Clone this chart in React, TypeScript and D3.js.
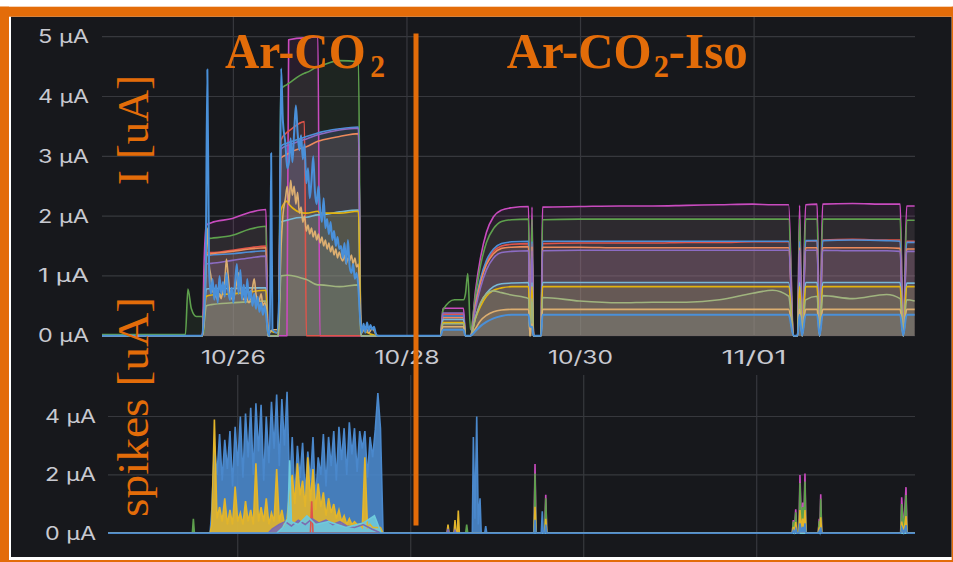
import React from "react";
import * as d3 from "d3";

type Pt = [number, number];

// Time values are fractional days of October 2021 (32 = 1 Nov, 33 = 2 Nov).
const toDate = (t: number) => new Date(Date.UTC(2021, 9, 1) + (t - 1) * 86400000);

const TOP_DOMAIN = [24.486, 33.854];
const SPIKE_DOMAIN = [24.5, 33.83];
const DATE_TICKS = [26, 28, 30, 32];
const CURRENT_TICKS = [0, 1, 2, 3, 4, 5];
const SPIKE_TICKS = [0, 2, 4];

// ---------- mean current, Ar-CO2 period (shared time grid) ----------
const AR_TIMES = [24.45, 25.447, 25.476, 25.516, 25.573, 25.643, 25.662, 25.689, 25.746, 25.988, 26.184, 26.375, 26.398, 26.519, 26.548, 26.617, 26.637, 26.818, 26.841, 26.974, 26.997, 27.222, 27.441, 27.47, 27.683, 28.375];
const MAGENTA_AR = [0, 0, 0, 0, 0, 0, 1.2, 1.85, 1.89, 1.96, 2.06, 2.11, 0, 0, 0, 0, 4.95, 4.98, 4.98, 5.0, 0, 0, 0, 0, 0, 0];
const GREEN_AR = [0.02, 0.02, 0.78, 0.45, 0.32, 0.32, 0.05, 1.62, 1.63, 1.68, 1.78, 1.83, 0, 0, 4.12, 4.2, 4.22, 4.39, 4.4, 4.5, 4.51, 4.6, 4.58, 0, 0, 0];
const RED_AR = [0, 0, 0, 0, 0, 0, 0.6, 1.39, 1.39, 1.43, 1.47, 1.5, 0, 0, 3.27, 3.4, 3.42, 3.58, 0, 0, 0, 0, 0, 0, 0, 0];
const BLUE_AR = [0, 0, 0, 0, 0, 0, 0.6, 1.34, 1.35, 1.37, 1.4, 1.42, 0, 0, 3.17, 3.22, 3.23, 3.32, 3.33, 3.39, 3.4, 3.46, 3.49, 0, 0, 0];
const ORANGE_AR = [0, 0, 0, 0, 0, 0, 0.55, 1.36, 1.37, 1.41, 1.45, 1.47, 0, 0, 2.97, 3.03, 3.05, 3.15, 3.16, 3.25, 3.26, 3.33, 3.38, 0, 0, 0];
const PURPLE_AR = [0, 0, 0, 0, 0, 0, 0.5, 1.2, 1.21, 1.26, 1.3, 1.33, 0, 0, 3.12, 3.18, 3.19, 3.28, 3.29, 3.36, 3.37, 3.44, 3.47, 0, 0, 0];
const LIGHTBLUE_AR = [0, 0, 0, 0, 0, 0, 0.3, 0.78, 0.79, 0.79, 0.8, 0.8, 0, 0, 1.9, 1.93, 1.94, 1.98, 1.98, 2.02, 2.02, 2.07, 2.1, 0, 0, 0];
const YELLOW_AR = [0, 0, 0, 0, 0, 0, 0.3, 0.66, 0.68, 0.7, 0.73, 0.76, 0.1, 0.05, 2.1, 2.25, 2.2, 2.05, 2.05, 2.08, 2.05, 2.05, 2.08, 0.12, 0, 0];
const OLIVE_AR = [0, 0, 0, 0, 0, 0, 0.2, 0.5, 0.52, 0.55, 0.57, 0.58, 0, 0, 1.0, 1.01, 1.01, 0.95, 0.94, 0.85, 0.85, 0.82, 0.85, 0, 0, 0];

// noisy channels during Ar-CO2 have their own readings
const TAN_AR: Pt[] = [
  [24.45, 0], [25.64, 0], [25.66, 0.2], [25.68, 0.9], [25.7, 1.8], [25.72, 1.2], [25.74, 1.0], [25.76, 0.75], [25.78, 0.7], [25.8, 0.65],
  [25.82, 0.6], [25.84, 0.7], [25.86, 0.62], [25.88, 0.8], [25.9, 0.9], [25.92, 1.28], [25.94, 1.0], [25.96, 0.7], [25.98, 0.62], [26.0, 0.6],
  [26.02, 0.75], [26.04, 0.9], [26.06, 1.05], [26.08, 0.85], [26.1, 0.65], [26.12, 0.6], [26.14, 0.7], [26.16, 0.6], [26.18, 0.55], [26.2, 0.65],
  [26.22, 0.8], [26.24, 0.95], [26.26, 0.7], [26.28, 0.55], [26.3, 0.6], [26.32, 0.7], [26.34, 0.5], [26.36, 0.55], [26.38, 0.45], [26.4, 0.05],
  [26.42, 0.05], [26.45, 0.1], [26.5, 0.1], [26.53, 0.6], [26.55, 1.5], [26.57, 2.0], [26.6, 2.3], [26.62, 2.5], [26.64, 2.2], [26.66, 2.6],
  [26.68, 2.35], [26.7, 2.5], [26.72, 2.2], [26.74, 2.4], [26.76, 2.05], [26.78, 2.15], [26.8, 1.9], [26.82, 2.0], [26.84, 1.75], [26.86, 1.85],
  [26.88, 1.7], [26.9, 1.8], [26.92, 1.65], [26.94, 1.75], [26.96, 1.6], [26.98, 1.7], [27.0, 1.55], [27.02, 1.65], [27.04, 1.5], [27.06, 1.6],
  [27.08, 1.45], [27.1, 1.55], [27.12, 1.4], [27.14, 1.5], [27.16, 1.35], [27.18, 1.45], [27.2, 1.3], [27.22, 1.4], [27.24, 1.3], [27.26, 1.25],
  [27.28, 1.35], [27.3, 1.2], [27.32, 1.3], [27.34, 1.25], [27.36, 1.35], [27.38, 1.2], [27.4, 1.3], [27.42, 1.15], [27.44, 1.2], [27.46, 0.4],
  [27.48, 0.05], [27.52, 0.15], [27.56, 0.05], [27.6, 0.12], [27.66, 0], [28.38, 0],
];
const BLUELOW_AR: Pt[] = [
  [24.45, 0], [25.64, 0], [25.66, 0.3], [25.68, 1.0], [25.7, 4.45], [25.72, 1.1], [25.74, 0.7], [25.76, 0.95], [25.78, 0.6], [25.8, 0.85],
  [25.82, 0.55], [25.84, 1.0], [25.86, 0.7], [25.88, 0.9], [25.9, 0.65], [25.92, 1.05], [25.94, 0.75], [25.96, 0.6], [25.98, 0.8], [26.0, 0.55],
  [26.02, 0.9], [26.04, 1.2], [26.06, 0.7], [26.08, 1.1], [26.1, 0.6], [26.12, 0.85], [26.14, 0.55], [26.16, 0.95], [26.18, 0.6], [26.2, 0.75],
  [26.22, 0.5], [26.24, 0.7], [26.26, 0.45], [26.28, 0.65], [26.3, 0.4], [26.32, 0.55], [26.34, 0.35], [26.36, 0.5], [26.38, 0.3], [26.4, 0.05],
  [26.42, 0], [26.435, 3.05], [26.45, 0.1], [26.5, 0.05], [26.53, 0.8], [26.55, 4.47], [26.57, 3.6], [26.6, 3.2], [26.62, 2.8], [26.64, 2.9],
  [26.66, 3.3], [26.68, 2.9], [26.7, 3.4], [26.72, 3.85], [26.74, 3.4], [26.76, 3.1], [26.78, 3.35], [26.8, 2.95], [26.82, 3.2], [26.84, 2.55],
  [26.86, 2.8], [26.88, 2.3], [26.9, 2.6], [26.92, 3.0], [26.94, 2.4], [26.96, 2.2], [26.98, 2.5], [27.0, 2.1], [27.02, 1.9], [27.04, 2.3],
  [27.06, 1.8], [27.08, 1.95], [27.1, 1.7], [27.12, 1.9], [27.14, 1.6], [27.16, 1.75], [27.18, 1.5], [27.2, 1.65], [27.22, 1.45], [27.24, 1.5],
  [27.26, 1.3], [27.28, 1.55], [27.3, 1.2], [27.32, 1.6], [27.34, 1.15], [27.36, 1.05], [27.38, 1.2], [27.4, 0.95], [27.42, 1.05], [27.44, 0.8],
  [27.46, 0.3], [27.48, 0.05], [27.5, 0.2], [27.52, 0.05], [27.54, 0.22], [27.56, 0.08], [27.58, 0.18], [27.6, 0.1], [27.62, 0.15], [27.64, 0.04],
  [27.66, 0], [28.38, 0],
];

// ---------- mean current, Ar-CO2-Iso period (shared time grid) ----------
const ISO_TIMES = [28.386, 28.415, 28.548, 28.651, 28.674, 28.701, 28.732, 28.79, 28.847, 28.916, 28.997, 29.089, 29.205, 29.401, 29.418, 29.441, 29.458, 29.545, 29.562, 29.988, 30.45, 30.83, 31.222, 31.602, 31.983, 32.213, 32.398, 32.455, 32.501, 32.524, 32.553, 32.594, 32.726, 32.755, 32.79, 33.135, 33.527, 33.683, 33.718, 33.758, 33.85];
const MAGENTA_ISO = [0, 0.46, 0.46, 0.46, 0, 0, 0, 0.76, 1.3, 1.73, 1.99, 2.1, 2.14, 2.16, 0, 2.15, 0, 0, 2.15, 2.16, 2.17, 2.17, 2.18, 2.19, 2.2, 2.19, 2.19, 0, 0, 2.18, 0, 2.19, 2.2, 0, 2.2, 2.21, 2.2, 2.2, 0, 2.17, 2.17];
const GREEN_ISO = [0, 0.43, 0.6, 0.6, 0.7, 1.04, 0.1, 0.68, 1.17, 1.56, 1.79, 1.91, 1.94, 1.95, 0, 1.95, 0, 0, 1.94, 1.95, 1.95, 1.95, 1.95, 1.95, 1.95, 1.95, 1.95, 0, 0, 1.95, 0, 1.95, 1.95, 0, 1.95, 1.95, 1.95, 1.95, 0, 1.93, 1.93];
const BLUE_ISO = [0, 0.33, 0.33, 0.33, 0, 0, 0, 0.55, 0.95, 1.26, 1.45, 1.54, 1.57, 1.58, 0, 1.58, 0, 0, 1.58, 1.58, 1.58, 1.58, 1.58, 1.58, 1.58, 1.58, 1.58, 0, 0, 1.58, 0, 1.59, 1.59, 0, 1.59, 1.6, 1.59, 1.58, 0, 1.56, 1.56];
const RED_ISO = [0, 0.36, 0.36, 0.36, 0, 0, 0, 0.54, 0.92, 1.23, 1.41, 1.5, 1.53, 1.54, 0, 1.54, 0, 0, 1.54, 1.55, 1.55, 1.55, 1.56, 1.56, 1.57, 1.57, 1.57, 0, 0, 1.57, 0, 1.58, 1.59, 0, 1.6, 1.61, 1.6, 1.6, 0, 1.58, 1.58];
const ORANGE_ISO = [0, 0.3, 0.3, 0.3, 0, 0, 0, 0.52, 0.89, 1.19, 1.37, 1.46, 1.48, 1.49, 0, 1.49, 0, 0, 1.48, 1.48, 1.47, 1.47, 1.47, 1.47, 1.47, 1.47, 1.47, 0, 0, 1.47, 0, 1.47, 1.47, 0, 1.47, 1.47, 1.47, 1.46, 0, 1.45, 1.45];
const PURPLE_ISO = [0, 0.38, 0.38, 0.38, 0, 0, 0, 0.45, 0.8, 1.1, 1.3, 1.39, 1.41, 1.42, 0, 1.42, 0, 0, 1.42, 1.43, 1.43, 1.43, 1.43, 1.43, 1.43, 1.43, 1.43, 0, 0, 1.43, 0, 1.43, 1.43, 0, 1.43, 1.42, 1.42, 1.41, 0, 1.41, 1.41];
const LIGHTBLUE_ISO = [0, 0.27, 0.27, 0.27, 0, 0, 0, 0.31, 0.53, 0.71, 0.82, 0.87, 0.88, 0.89, 0, 0.89, 0, 0, 0.89, 0.89, 0.89, 0.89, 0.89, 0.89, 0.89, 0.89, 0.89, 0, 0, 0.89, 0, 0.89, 0.89, 0, 0.89, 0.89, 0.89, 0.89, 0, 0.88, 0.88];
const YELLOW_ISO = [0, 0.22, 0.22, 0.22, 0, 0, 0, 0.29, 0.49, 0.66, 0.76, 0.8, 0.82, 0.82, 0, 0.82, 0, 0, 0.82, 0.82, 0.82, 0.82, 0.82, 0.82, 0.82, 0.82, 0.82, 0, 0, 0.82, 0, 0.82, 0.82, 0, 0.82, 0.82, 0.82, 0.82, 0, 0.82, 0.82];
const OLIVE_ISO = [0, 0.2, 0.2, 0.2, 0, 0, 0, 0.3, 0.55, 0.7, 0.75, 0.72, 0.68, 0.62, 0, 0.62, 0, 0, 0.64, 0.58, 0.55, 0.56, 0.56, 0.6, 0.71, 0.76, 0.66, 0, 0, 0.62, 0, 0.6, 0.66, 0, 0.67, 0.62, 0.69, 0.62, 0, 0.6, 0.58];
const TAN_ISO = [0, 0.15, 0.15, 0.15, 0, 0, 0, 0.12, 0.25, 0.34, 0.4, 0.43, 0.44, 0.44, 0, 0.2, 0, 0, 0.44, 0.44, 0.44, 0.44, 0.44, 0.44, 0.44, 0.44, 0.44, 0, 0, 0.44, 0, 0.44, 0.44, 0, 0.44, 0.44, 0.44, 0.44, 0, 0.44, 0.44];
const BLUELOW_ISO = [0, 0.1, 0.1, 0.1, 0, 0, 0, 0.08, 0.16, 0.23, 0.29, 0.33, 0.35, 0.35, 0.15, 0.15, 0, 0, 0.35, 0.35, 0.35, 0.35, 0.35, 0.35, 0.35, 0.35, 0.35, 0, 0, 0.35, 0, 0.35, 0.35, 0, 0.35, 0.35, 0.35, 0.35, 0, 0.35, 0.35];

// ---------- spike current ----------
const CLUSTER_TIMES = [25.7, 25.73, 25.76, 25.79, 25.82, 25.85, 25.88, 25.91, 25.94, 25.97, 26.0, 26.03, 26.06, 26.09, 26.12, 26.15, 26.18, 26.21, 26.24, 26.27, 26.3, 26.33, 26.36, 26.39, 26.42, 26.45, 26.48, 26.51, 26.54, 26.57, 26.6, 26.63, 26.66, 26.69, 26.72, 26.75, 26.78, 26.81, 26.84, 26.87, 26.9, 26.93, 26.96, 26.99, 27.02, 27.05, 27.08, 27.11, 27.14, 27.17, 27.2, 27.23, 27.26, 27.29, 27.32, 27.35, 27.38, 27.41, 27.44, 27.47, 27.5, 27.53, 27.56, 27.59, 27.62, 27.65, 27.68];
const CLUSTER_BLUE = [0.8, 3.0, 2.0, 3.4, 1.8, 3.2, 2.2, 3.5, 1.6, 3.65, 2.3, 4.0, 1.9, 4.1, 2.6, 4.3, 2.0, 4.45, 2.8, 4.4, 1.8, 4.0, 2.4, 4.5, 2.9, 4.75, 2.3, 4.6, 3.0, 4.85, 1.5, 3.3, 1.2, 3.0, 1.9, 3.1, 1.3, 2.8, 1.8, 3.3, 1.1, 2.6, 2.0, 3.4, 1.6, 3.3, 2.3, 3.5, 1.8, 3.65, 2.5, 3.6, 2.0, 3.8, 2.7, 3.6, 2.1, 3.5, 2.9, 3.5, 1.9, 3.3, 2.6, 3.55, 4.8, 3.6, 0];
const CLUSTER_YELLOW = [0.3, 3.9, 0.5, 0.9, 0.4, 1.2, 0.3, 0.8, 0.3, 1.6, 0.4, 0.7, 0.3, 1.1, 0.4, 0.8, 0.3, 2.4, 0.4, 0.9, 0.4, 1.2, 0.3, 0.7, 0.4, 2.2, 0.4, 0.8, 0.3, 0.5, 1.4, 2.0, 1.0, 2.4, 1.3, 1.8, 0.9, 2.6, 1.1, 2.2, 0.8, 1.7, 0.9, 1.4, 0.6, 1.2, 0.7, 1.0, 0.5, 0.8, 0.4, 0.6, 0.3, 0.5, 0.3, 0.4, 0.3, 0.3, 0.2, 2.6, 0.2, 0.3, 0.2, 0.2, 0.2, 0.2, 0];
const BLUE_SPIKES_LATE: Pt[] = [[27.7, 0], [28.712, 0], [28.724, 3.3], [28.742, 0.5], [28.763, 4.0], [28.781, 0.3], [28.801, 1.2], [28.815, 0], [28.855, 0], [28.867, 0.25], [28.879, 0], [33.83, 0]];
const YELLOW_SPIKES_LATE: Pt[] = [[27.7, 0], [28.419, 0], [28.431, 0.3], [28.443, 0], [28.5, 0], [28.512, 0.45], [28.524, 0], [28.538, 0], [28.55, 0.78], [28.562, 0], [29.425, 0], [29.437, 0.91], [29.449, 0], [29.549, 0], [29.561, 0.5], [29.573, 0], [32.411, 0], [32.423, 0.22], [32.437, 0.05], [32.451, 0.38], [32.465, 0], [32.488, 0], [32.5, 0.8], [32.516, 0.15], [32.532, 0.5], [32.545, 0.15], [32.558, 0.8], [32.57, 0], [32.711, 0], [32.723, 0.2], [32.731, 0.05], [32.74, 0.55], [32.752, 0], [33.664, 0], [33.676, 0.4], [33.7, 0.05], [33.726, 0.59], [33.738, 0], [33.83, 0]];
const MAGENTA_SPIKES: Pt[] = [[24.5, 0], [29.425, 0], [29.437, 2.37], [29.449, 0], [29.549, 0], [29.561, 1.32], [29.573, 0], [32.411, 0], [32.423, 0.45], [32.437, 0.1], [32.451, 0.82], [32.465, 0], [32.488, 0], [32.5, 2.0], [32.516, 0.3], [32.532, 1.05], [32.545, 0.3], [32.558, 2.05], [32.57, 0], [32.711, 0], [32.723, 0.5], [32.731, 0.1], [32.74, 1.34], [32.752, 0], [33.664, 0], [33.676, 1.23], [33.7, 0.1], [33.726, 1.58], [33.738, 0], [33.83, 0]];
const GREEN_SPIKES: Pt[] = [[24.5, 0], [25.475, 0], [25.487, 0.5], [25.499, 0], [28.635, 0], [28.647, 0.3], [28.659, 0], [29.425, 0], [29.437, 2.05], [29.449, 0], [29.549, 0], [29.561, 1.2], [29.573, 0], [32.411, 0], [32.423, 0.4], [32.437, 0.08], [32.451, 0.72], [32.465, 0], [32.488, 0], [32.5, 1.72], [32.516, 0.25], [32.532, 0.9], [32.545, 0.25], [32.558, 1.77], [32.57, 0], [32.711, 0], [32.723, 0.42], [32.731, 0.08], [32.74, 1.18], [32.752, 0], [33.664, 0], [33.676, 1.0], [33.7, 0.08], [33.726, 1.31], [33.738, 0], [33.83, 0]];
const BASE_SPIKES: Pt[] = [[24.5, 0], [29.425, 0], [29.437, 0.46], [29.449, 0], [29.509, 0], [29.521, 0.75], [29.533, 0], [29.549, 0], [29.561, 0.3], [29.573, 0], [32.411, 0], [32.423, 0.1], [32.437, 0.02], [32.451, 0.15], [32.465, 0], [32.488, 0], [32.5, 0.34], [32.516, 0.05], [32.532, 0.22], [32.545, 0.05], [32.558, 0.34], [32.57, 0], [32.711, 0], [32.723, 0.08], [32.731, 0.02], [32.74, 0.2], [32.752, 0], [33.664, 0], [33.676, 0.2], [33.7, 0.02], [33.726, 0.28], [33.738, 0], [33.83, 0]];
const PURPLE_SPIKES: Pt[] = [[24.5, 0], [26.35, 0], [26.4, 0.15], [26.48, 0.3], [26.55, 0.4], [26.62, 0.25], [26.7, 0.45], [26.78, 0.3], [26.86, 0.5], [26.94, 0.35], [27.02, 0.45], [27.1, 0.3], [27.18, 0.4], [27.26, 0.25], [27.35, 0.2], [27.45, 0.3], [27.55, 0.15], [27.66, 0], [28.419, 0], [28.431, 0.15], [28.443, 0], [28.5, 0], [28.512, 0.1], [28.524, 0], [33.83, 0]];
const LIGHTBLUE_SPIKES: Pt[] = [[24.5, 0], [26.45, 0], [26.52, 0.2], [26.58, 0.5], [26.6, 2.5], [26.62, 0.4], [26.7, 0.3], [26.8, 0.6], [26.9, 0.3], [27.05, 0.4], [27.25, 0.2], [27.45, 0.35], [27.58, 0.6], [27.66, 0], [33.83, 0]];
const RED_SPIKES: Pt[] = [[24.5, 0], [26.84, 0], [26.855, 1.1], [26.87, 0], [33.83, 0]];

const zip = (ts: number[], vs: number[]): Pt[] => ts.map((t, i) => [t, vs[i]]);

// drawing order: first entry is at the back
const CURRENT_SERIES = [
  { color: "#c94bbf", points: [...zip(AR_TIMES, MAGENTA_AR), ...zip(ISO_TIMES, MAGENTA_ISO)] },
  { color: "#5ea04d", points: [...zip(AR_TIMES, GREEN_AR), ...zip(ISO_TIMES, GREEN_ISO)] },
  { color: "#e0544a", points: [...zip(AR_TIMES, RED_AR), ...zip(ISO_TIMES, RED_ISO)] },
  { color: "#4d8fd8", points: [...zip(AR_TIMES, BLUE_AR), ...zip(ISO_TIMES, BLUE_ISO)] },
  { color: "#ec8a5c", points: [...zip(AR_TIMES, ORANGE_AR), ...zip(ISO_TIMES, ORANGE_ISO)] },
  { color: "#8c6cc4", points: [...zip(AR_TIMES, PURPLE_AR), ...zip(ISO_TIMES, PURPLE_ISO)] },
  { color: "#78b8d6", points: [...zip(AR_TIMES, LIGHTBLUE_AR), ...zip(ISO_TIMES, LIGHTBLUE_ISO)] },
  { color: "#e2b20e", points: [...zip(AR_TIMES, YELLOW_AR), ...zip(ISO_TIMES, YELLOW_ISO)] },
  { color: "#a0b47e", points: [...zip(AR_TIMES, OLIVE_AR), ...zip(ISO_TIMES, OLIVE_ISO)] },
  { color: "#dcae70", points: [...TAN_AR, ...zip(ISO_TIMES, TAN_ISO)] },
  { color: "#4a90d9", points: [...BLUELOW_AR, ...zip(ISO_TIMES, BLUELOW_ISO)], width: 2 },
];

const SPIKE_SERIES = [
  { color: "#c94bbf", points: MAGENTA_SPIKES },
  { color: "#5ea04d", points: GREEN_SPIKES },
  { color: "#e0544a", points: RED_SPIKES },
  { color: "#4a88cc", points: [[24.5, 0], [25.68, 0], ...zip(CLUSTER_TIMES, CLUSTER_BLUE), ...BLUE_SPIKES_LATE] as Pt[] },
  { color: "#e3b52a", points: [[24.5, 0], [25.68, 0], ...zip(CLUSTER_TIMES, CLUSTER_YELLOW), ...YELLOW_SPIKES_LATE] as Pt[] },
  { color: "#7c6bb0", points: PURPLE_SPIKES },
  { color: "#6ecadc", points: LIGHTBLUE_SPIKES },
  { color: "#4a88cc", points: BASE_SPIKES },
];

const ORANGE = "#e36c09";
const BG = "#17181c";
const GRID = "#37383d";
const LABEL = "#c8c9d0";
const AXIS_FONT = "Inter, Roboto, 'DejaVu Sans', sans-serif";
const NOTE_FONT = "'Liberation Serif', 'DejaVu Serif', serif";
const fmt = d3.utcFormat("%m/%d");

export default function App() {
  // upper panel: mean current
  const xTop = d3.scaleUtc().domain(TOP_DOMAIN.map(toDate)).range([102, 915]);
  const yTop = d3.scaleLinear().domain([0, 5]).range([335.7, 36.7]);
  // lower panel: spike current
  const xSp = d3.scaleUtc().domain(SPIKE_DOMAIN.map(toDate)).range([108, 915]);
  const ySp = d3.scaleLinear().domain([0, 4]).range([533.3, 416.5]);

  const topLine = d3.line<Pt>().x((d) => xTop(toDate(d[0]))).y((d) => yTop(d[1])).curve(d3.curveMonotoneX);
  const topArea = d3.area<Pt>().x((d) => xTop(toDate(d[0]))).y0(yTop(0)).y1((d) => yTop(d[1])).curve(d3.curveMonotoneX);
  const spLine = d3.line<Pt>().x((d) => xSp(toDate(d[0]))).y((d) => ySp(d[1]));
  const spArea = d3.area<Pt>().x((d) => xSp(toDate(d[0]))).y0(ySp(0)).y1((d) => ySp(d[1]));

  return (
    <svg width={953} height={562} style={{ position: "absolute", left: 0, top: 0, display: "block" }}>
      <defs>
        <clipPath id="clip-top"><rect x={102} y={17} width={813} height={321} /></clipPath>
        <clipPath id="clip-sp"><rect x={108} y={375} width={807} height={161} /></clipPath>
      </defs>
      <rect x={0} y={0} width={953} height={562} fill="#ffffff" />
      <rect x={11} y={16.7} width={940.7} height={540.3} fill={BG} />

      {/* upper panel grid */}
      {CURRENT_TICKS.map((v) => (
        <g key={`cy${v}`}>
          <line x1={102} x2={915} y1={yTop(v)} y2={yTop(v)} stroke={GRID} strokeWidth={1.2} />
          <text x={89} y={yTop(v)} dy="0.36em" textAnchor="end" fill={LABEL} fontFamily={AXIS_FONT} fontSize={18}
            textLength={51} lengthAdjust="spacingAndGlyphs">{`${v} μA`}</text>
        </g>
      ))}
      {DATE_TICKS.map((t) => (
        <g key={`cx${t}`}>
          <line x1={xTop(toDate(t))} x2={xTop(toDate(t))} y1={17} y2={336} stroke={GRID} strokeWidth={1.2} />
          <text x={xTop(toDate(t))} y={364} textAnchor="middle" fill={LABEL} fontFamily={AXIS_FONT} fontSize={18}
            textLength={65} lengthAdjust="spacingAndGlyphs">{fmt(toDate(t))}</text>
        </g>
      ))}

      {/* lower panel grid */}
      {SPIKE_TICKS.map((v) => (
        <g key={`sy${v}`}>
          <line x1={108} x2={915} y1={ySp(v)} y2={ySp(v)} stroke={GRID} strokeWidth={1.2} />
          <text x={96} y={ySp(v)} dy="0.36em" textAnchor="end" fill={LABEL} fontFamily={AXIS_FONT} fontSize={18}
            textLength={51} lengthAdjust="spacingAndGlyphs">{`${v} μA`}</text>
        </g>
      ))}
      {DATE_TICKS.map((t) => (
        <line key={`sx${t}`} x1={xSp(toDate(t))} x2={xSp(toDate(t))} y1={375} y2={557} stroke={GRID} strokeWidth={1.2} />
      ))}

      {/* mean current traces */}
      <g clipPath="url(#clip-top)">
        {CURRENT_SERIES.map((s, i) => (
          <path key={`ca${i}`} d={topArea(s.points) ?? ""} fill={s.color} fillOpacity={0.1} />
        ))}
        {CURRENT_SERIES.map((s, i) => (
          <path key={`cl${i}`} d={topLine(s.points) ?? ""} fill="none" stroke={s.color} strokeWidth={s.width ?? 1.6}
            strokeLinejoin="round" />
        ))}
      </g>

      {/* spike current traces */}
      <g clipPath="url(#clip-sp)">
        {SPIKE_SERIES.map((s, i) => (
          <path key={`sa${i}`} d={spArea(s.points) ?? ""} fill={s.color} fillOpacity={0.9} />
        ))}
        {SPIKE_SERIES.map((s, i) => (
          <path key={`sl${i}`} d={spLine(s.points) ?? ""} fill="none" stroke={s.color} strokeWidth={1.6} />
        ))}
      </g>

      {/* annotations */}
      <rect x={413.5} y={33.5} width={5} height={492} fill={ORANGE} />
      <g fill={ORANGE} fontFamily={NOTE_FONT} fontWeight="bold">
        <text x={225} y={68} fontSize={50} textLength={160} lengthAdjust="spacingAndGlyphs">
          Ar-CO<tspan dx={5} dy={9} fontSize={31}>2</tspan>
        </text>
        <text x={506.7} y={68} fontSize={50} textLength={241} lengthAdjust="spacingAndGlyphs">
          Ar-CO<tspan dx={2} dy={9} fontSize={31}>2</tspan><tspan dy={-9} fontSize={50}>-Iso</tspan>
        </text>
      </g>
      <g fill={ORANGE} fontFamily={NOTE_FONT}>
        <text transform="translate(148,185) rotate(-90)" fontSize={45} textLength={110} lengthAdjust="spacingAndGlyphs">I [uA]</text>
        <text transform="translate(148,517) rotate(-90)" fontSize={45} textLength={220} lengthAdjust="spacingAndGlyphs">spikes [uA]</text>
      </g>

      {/* frame */}
      <rect x={0} y={6.7} width={953} height={10} fill={ORANGE} />
      <rect x={0} y={6.7} width={9} height={555.3} fill={ORANGE} />
      <rect x={0} y={560} width={953} height={2} fill={ORANGE} />
      <rect x={951.7} y={6.7} width={1.3} height={555.3} fill={ORANGE} />
    </svg>
  );
}
